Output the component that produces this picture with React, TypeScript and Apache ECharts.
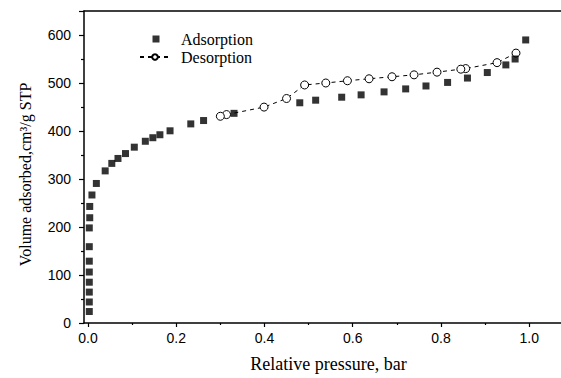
import React, { useEffect, useRef } from "react";
import * as echarts from "echarts";

const adsorptionX = [0.003, 0.003, 0.003, 0.003, 0.003, 0.003, 0.003, 0.003, 0.004, 0.004, 0.009, 0.019, 0.039, 0.054, 0.068, 0.085, 0.105, 0.13, 0.147, 0.163, 0.186, 0.233, 0.262, 0.331, 0.48, 0.516, 0.575, 0.619, 0.671, 0.72, 0.766, 0.815, 0.86, 0.905, 0.947, 0.968, 0.992];
const adsorptionY = [23.9, 43.8, 64.4, 85, 106.2, 128.8, 159, 198.1, 219.3, 242.8, 266.7, 290.7, 316.9, 332.5, 342.8, 353, 366.3, 378.6, 386, 392.2, 400.4, 414.8, 421.8, 436.8, 458.8, 464.2, 470.4, 475.3, 481.5, 487.7, 493.8, 501.2, 510.3, 521.8, 537.7, 550, 589.7];

const desorptionX = [0.97, 0.927, 0.856, 0.845, 0.791, 0.739, 0.689, 0.637, 0.588, 0.539, 0.491, 0.45, 0.399, 0.314, 0.3];
const desorptionY = [562.3, 542.4, 530, 528.8, 522.6, 517, 513, 508.8, 504.7, 500, 495.9, 467.7, 449.8, 434.2, 430.7];

const xMajorTicks = [0, 0.2, 0.4, 0.6, 0.8, 1.0];
const xMinorTicks = [0.1, 0.3, 0.5, 0.7, 0.9];

const xTitle = "Relative pressure, bar";
const yTitle = "Volume adsorbed,cm³/g STP";

export default function App() {
  const ref = useRef<HTMLDivElement>(null);
  useEffect(() => {
    if (!ref.current) return;
    const chart = echarts.init(ref.current, null, { renderer: "svg" });
    const serif = "Liberation Serif";
    const sans = "Liberation Sans";
    const xMin = -0.009;
    const xMax = 1.072;
    chart.setOption({
      animation: false,
      backgroundColor: "#ffffff",
      grid: { left: 84, top: 11, right: 0, bottom: 51, containLabel: false },
      legend: {
        orient: "vertical",
        left: 134,
        top: 26,
        itemWidth: 30,
        itemHeight: 7,
        itemGap: 2,
        textStyle: { fontFamily: serif, fontSize: 16, color: "#000", padding: [0, 0, 0, 6] },
        data: [
          { name: "Adsorption", icon: "path://M0,3.5L0.001,3.5M12.5,0H19.5V7H12.5ZM29.999,3.5L30,3.5" },
          { name: "Desorption" },
        ],
      },
      xAxis: [
        {
          type: "value",
          min: xMin,
          max: xMax,
          position: "bottom",
          splitLine: { show: false },
          axisLine: { show: true, onZero: false, lineStyle: { color: "#000", width: 1.5 } },
          axisTick: { show: true, length: 4, inside: false, customValues: xMajorTicks, lineStyle: { color: "#000", width: 1.2 } },
          axisLabel: {
            show: true,
            customValues: xMajorTicks,
            margin: 8,
            fontFamily: sans,
            fontSize: 14,
            color: "#000",
            formatter: (v: number) => v.toFixed(1),
          },
          name: xTitle,
          nameLocation: "middle",
          nameGap: 32,
          nameTextStyle: { fontFamily: serif, fontSize: 18, color: "#000", padding: [0, 0, 0, 12] },
        },
        {
          type: "value",
          min: xMin,
          max: xMax,
          position: "bottom",
          splitLine: { show: false },
          axisLine: { show: false, onZero: false },
          axisTick: { show: true, length: 2, customValues: xMinorTicks, lineStyle: { color: "#000", width: 1.2 } },
          axisLabel: { show: false },
        },
        {
          type: "value",
          min: xMin,
          max: xMax,
          position: "top",
          splitLine: { show: false },
          axisLine: { show: true, onZero: false, lineStyle: { color: "#000", width: 1.5 } },
          axisTick: { show: false },
          axisLabel: { show: false },
        },
      ],
      yAxis: {
        type: "value",
        min: 0,
        max: 650,
        interval: 100,
        splitLine: { show: false },
        axisLine: { show: true, onZero: false, lineStyle: { color: "#000", width: 1.5 } },
        axisTick: { show: true, length: 5, lineStyle: { color: "#000", width: 1.2 } },
        minorTick: { show: true, splitNumber: 2, length: 3, lineStyle: { color: "#000", width: 1.2 } },
        axisLabel: { margin: 13, fontFamily: sans, fontSize: 14, color: "#000", showMaxLabel: false },
        name: yTitle,
        nameLocation: "middle",
        nameGap: 51,
        nameRotate: 90,
        nameTextStyle: { fontFamily: serif, fontSize: 16, color: "#000", padding: [0, 15, 0, 0] },
      },
      series: [
        {
          name: "Adsorption",
          type: "scatter",
          symbol: "rect",
          symbolSize: 7,
          itemStyle: { color: "#000" },
          data: adsorptionX.map((x, i) => [x, adsorptionY[i]]),
          z: 3,
        },
        {
          name: "Desorption",
          type: "line",
          symbol: "circle",
          symbolSize: 8,
          showSymbol: true,
          itemStyle: { color: "#fff", borderColor: "#000", borderWidth: 1 },
          lineStyle: { color: "#000", width: 1, type: [4, 4] },
          data: desorptionX.map((x, i) => [x, desorptionY[i]]),
          z: 2,
        },
      ],
    });
    return () => chart.dispose();
  }, []);
  return <div ref={ref} style={{ width: 561, height: 378, position: "absolute", left: 0, top: 0 }} />;
}
